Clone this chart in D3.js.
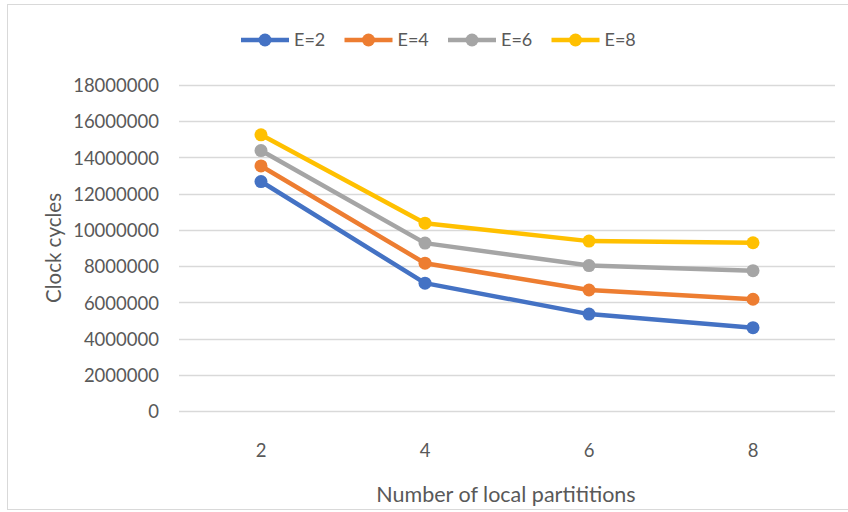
<!DOCTYPE html>
<html>
<head>
<meta charset="utf-8">
<script src="https://cdn.jsdelivr.net/npm/d3@7"></script>
<style>
  html, body { margin: 0; padding: 0; background: #fff; }
  svg { display: block; }
  text { font-family: Lato, "Liberation Sans", Arial, sans-serif; fill: #595959; }
</style>
</head>
<body>
<svg id="chart" width="848" height="512"></svg>
<script>
const categories = ["2", "4", "6", "8"];
const seriesNames = ["E=2", "E=4", "E=6", "E=8"];
const e2 = [12670000, 7060000, 5350000, 4600000];
const e4 = [13530000, 8160000, 6680000, 6170000];
const e6 = [14380000, 9270000, 8030000, 7750000];
const e8 = [15250000, 10370000, 9380000, 9290000];
const yTicks = [0, 2000000, 4000000, 6000000, 8000000, 10000000, 12000000, 14000000, 16000000, 18000000];
const colors = ["#4472C4", "#ED7D31", "#A5A5A5", "#FFC000"];
const xTitle = "Number of local partititions";
const yTitle = "Clock cycles";

const seriesValues = [e2, e4, e6, e8];
const svg = d3.select("#chart");
const FONT = "Lato, 'Liberation Sans', Arial, sans-serif";

// outer chart border
svg.append("rect").attr("x", 7.5).attr("y", 4.5).attr("width", 900).attr("height", 505)
  .attr("fill", "none").attr("stroke", "#D9D9D9").attr("stroke-width", 1);

const plot = { left: 179, right: 835, top: 85, bottom: 411 };
const x = d3.scaleBand().domain(categories).range([plot.left, plot.right]);
const y = d3.scaleLinear().domain([0, 18000000]).range([plot.bottom, plot.top]);

// gridlines
svg.append("g").selectAll("line").data(yTicks).join("line")
  .attr("x1", plot.left).attr("x2", plot.right)
  .attr("y1", d => Math.round(y(d)) + 0.5).attr("y2", d => Math.round(y(d)) + 0.5)
  .attr("stroke", "#D9D9D9").attr("stroke-width", 1.5);

// y axis labels
const yAxis = d3.axisLeft(y).tickValues(yTicks).tickSize(0).tickPadding(0).tickFormat(d3.format("d"));
const yg = svg.append("g").attr("transform", `translate(${plot.left - 20},0)`).call(yAxis);
yg.select(".domain").remove();
yg.selectAll("text").attr("font-size", 18.5).attr("fill", "#595959")
  .style("font-family", FONT).attr("dy", "0.36em");

// x axis labels
const xAxis = d3.axisBottom(x).tickSize(0).tickPadding(0);
const xg = svg.append("g").attr("transform", `translate(0,${plot.bottom + 33})`).call(xAxis);
xg.select(".domain").remove();
xg.selectAll("text").attr("font-size", 18.5).attr("fill", "#595959")
  .style("font-family", FONT).attr("dy", "0.71em");

// axis titles
svg.append("text").attr("x", (plot.left + plot.right) / 2 - 1).attr("y", 502)
  .attr("text-anchor", "middle").attr("font-size", 21.5).text(xTitle);
svg.append("text").attr("transform", "translate(61,248) rotate(-90)")
  .attr("text-anchor", "middle").attr("font-size", 20.5).text(yTitle);

// series
const line = d3.line().x((d, i) => x(categories[i]) + x.bandwidth() / 2).y(d => y(d));
seriesValues.forEach((vals, s) => {
  const g = svg.append("g");
  g.append("path").datum(vals).attr("d", line).attr("fill", "none")
    .attr("stroke", colors[s]).attr("stroke-width", 4.5).attr("stroke-linejoin", "round");
  g.selectAll("circle").data(vals).join("circle")
    .attr("cx", (d, i) => x(categories[i]) + x.bandwidth() / 2).attr("cy", d => y(d))
    .attr("r", 6.5).attr("fill", colors[s]);
});

// legend
const legend = svg.append("g");
seriesNames.forEach((name, s) => {
  const x0 = 241 + s * 103.5;
  const g = legend.append("g").attr("transform", `translate(${x0},40)`);
  g.append("line").attr("x1", 0).attr("x2", 48).attr("y1", 0).attr("y2", 0)
    .attr("stroke", colors[s]).attr("stroke-width", 4.5);
  g.append("circle").attr("cx", 24).attr("cy", 0).attr("r", 6.5).attr("fill", colors[s]);
  g.append("text").attr("x", 53).attr("y", 0).attr("dy", "0.36em").attr("font-size", 18).text(name);
});
</script>
</body>
</html>
